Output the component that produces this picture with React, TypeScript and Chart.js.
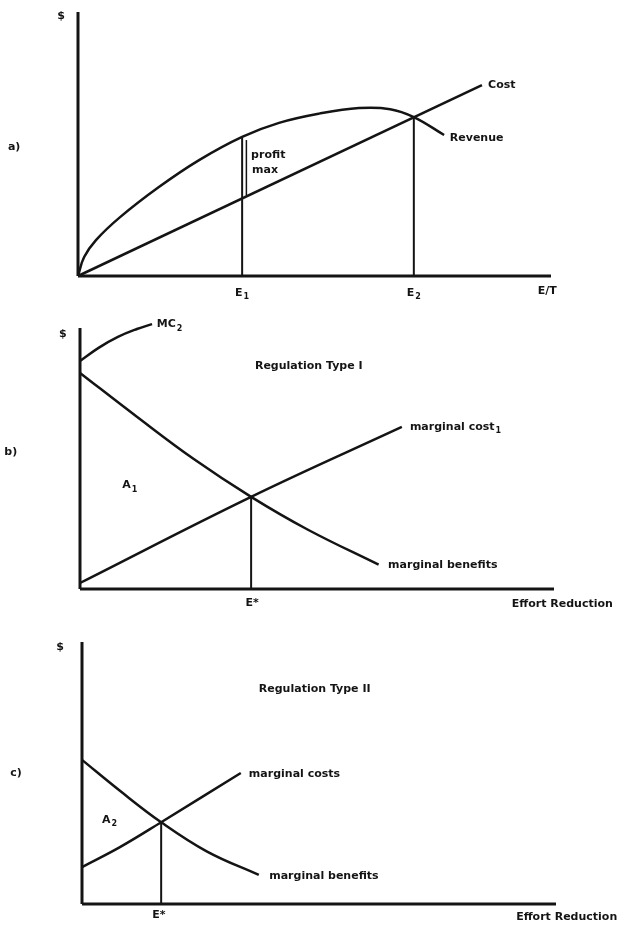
import React, { useEffect, useRef } from "react";
import { Chart, registerables } from "chart.js";
Chart.register(...registerables);

const INK = "#141414";
const FONT = '"DejaVu Sans", "Liberation Sans", Arial, sans-serif';

// ---------- Panel a) ----------
const aRevenueX = [0, 1.3, 3.8, 8.9, 17.1, 25.6, 34.7, 42.5, 51, 59.4, 66, 71, 77.4];
const aRevenueY = [0, 7.2, 13.6, 22.3, 33.7, 43.9, 52.7, 58, 61.5, 63.6, 63.2, 60.2, 53.4];
const aCostX = [0, 85.4];
const aCostY = [0, 72.3];
const aE1 = 34.7;
const aE1Top = 52.7;
const aE2 = 71.0;
const aE2Top = 60.2;
const aProfitBracketX = 35.6;
const aProfitBracketY = [30.5, 51.5];

// ---------- Panel b) ----------
const bMC2X = [0, 4, 8, 12, 15.2];
const bMC2Y = [87.4, 92.5, 96.6, 99.6, 101.5];
const bBenefitX = [0, 12, 24, 36.1, 48, 63];
const bBenefitY = [82.8, 66, 49.8, 35.3, 22.8, 9.3];
const bCostX = [0, 36.1, 67.9];
const bCostY = [2.3, 35.3, 62.1];
const bEstar = 36.1;
const bEstarTop = 35.3;

// ---------- Panel c) ----------
const cBenefitX = [0, 8, 16.7, 26.4, 37.3];
const cBenefitY = [55, 43.2, 31.2, 20, 11.1];
const cCostX = [0, 8, 16.7, 33.5];
const cCostY = [14.1, 21.7, 31.2, 50];
const cEstar = 16.7;
const cEstarTop = 31.2;

type Label = { t: string; sub?: string; x: number; y: number; align?: "left" | "center"; size?: number };

const aLabels: Label[] = [
  { t: "$", x: -3.6, y: 98.5, align: "center", size: 11 },
  { t: "a)", x: -13.5, y: 48.9, align: "center" },
  { t: "Cost", x: 86.7, y: 72.3 },
  { t: "Revenue", x: 78.6, y: 52.3 },
  { t: "profit", x: 36.6, y: 45.8 },
  { t: "max", x: 36.8, y: 40.2 },
  { t: "E", sub: "1", x: aE1, y: -6.4, align: "center" },
  { t: "E", sub: "2", x: aE2, y: -6.4, align: "center" },
  { t: "E/T", x: 99.2, y: -5.7, align: "center" },
];

const bLabels: Label[] = [
  { t: "$", x: -3.6, y: 97.7, align: "center", size: 11 },
  { t: "b)", x: -14.6, y: 52.5, align: "center" },
  { t: "MC", sub: "2", x: 16.2, y: 101.5 },
  { t: "Regulation Type I", x: 36.9, y: 85.4 },
  { t: "marginal cost", sub: "1", x: 69.6, y: 62.1 },
  { t: "A", sub: "1", x: 8.9, y: 39.8 },
  { t: "marginal benefits", x: 65.0, y: 9.2 },
  { t: "E*", x: 36.3, y: -5.4, align: "center" },
  { t: "Effort Reduction", x: 91.1, y: -5.7 },
];

const cLabels: Label[] = [
  { t: "$", x: -4.6, y: 98.1, align: "center", size: 11 },
  { t: "c)", x: -13.9, y: 50, align: "center" },
  { t: "Regulation Type II", x: 37.3, y: 82.1 },
  { t: "marginal costs", x: 35.2, y: 49.6 },
  { t: "A", sub: "2", x: 4.2, y: 32.1 },
  { t: "marginal benefits", x: 39.5, y: 10.7 },
  { t: "E*", x: 16.2, y: -4.2, align: "center" },
  { t: "Effort Reduction", x: 91.6, y: -5 },
];

function line(xs: number[], ys: number[], width = 2.5, smooth = true) {
  return {
    data: xs.map((x, i) => ({ x, y: ys[i] })),
    borderColor: INK,
    borderWidth: width,
    pointRadius: 0,
    fill: false,
    tension: smooth ? 0.4 : 0,
    clip: false,
    borderCapStyle: "butt",
  } as any;
}

function axes() {
  return [line([0, 100], [0, 0], 3, false), line([0, 0], [0, 100], 3, false)];
}

const labelPlugin = {
  id: "labels",
  afterDatasetsDraw(chart: any, _args: any, opts: any) {
    const labels: Label[] = opts.items || [];
    const ctx = chart.ctx;
    const xs = chart.scales.x;
    const ys = chart.scales.y;
    ctx.save();
    ctx.fillStyle = INK;
    ctx.textBaseline = "middle";
    for (const l of labels) {
      const size = l.size || 11;
      const px = xs.getPixelForValue(l.x);
      const py = ys.getPixelForValue(l.y);
      ctx.font = `bold ${size}px ${FONT}`;
      const w1 = ctx.measureText(l.t).width;
      let w2 = 0;
      const subSize = Math.round(size * 0.75);
      if (l.sub) {
        ctx.font = `bold ${subSize}px ${FONT}`;
        w2 = ctx.measureText(l.sub).width + 1;
      }
      const total = w1 + w2;
      const x0 = l.align === "center" ? px - total / 2 : px;
      ctx.font = `bold ${size}px ${FONT}`;
      ctx.textAlign = "left";
      ctx.fillText(l.t, x0, py);
      if (l.sub) {
        ctx.font = `bold ${subSize}px ${FONT}`;
        ctx.fillText(l.sub, x0 + w1 + 1, py + size * 0.4);
      }
    }
    ctx.restore();
  },
};

function PanelChart(props: { height: number; padding: any; datasets: any[]; labels: Label[] }) {
  const ref = useRef<HTMLCanvasElement | null>(null);
  useEffect(() => {
    if (!ref.current) return;
    const chart = new Chart(ref.current, {
      type: "line",
      data: { datasets: props.datasets },
      options: {
        animation: false,
        responsive: false,
        devicePixelRatio: 1,
        layout: { padding: props.padding },
        scales: {
          x: { type: "linear", min: 0, max: 100, display: false },
          y: { type: "linear", min: 0, max: 100, display: false },
        },
        plugins: {
          legend: { display: false },
          tooltip: { enabled: false },
          labels: { items: props.labels },
        } as any,
      },
      plugins: [labelPlugin],
    });
    return () => chart.destroy();
  }, []);
  return <canvas ref={ref} width={622} height={props.height} style={{ display: "block", width: 622, height: props.height }} />;
}

export default function App() {
  const aSets = [
    ...axes(),
    line(aCostX, aCostY, 2.5, false),
    line(aRevenueX, aRevenueY, 2.5, true),
    line([aE1, aE1], [0, aE1Top], 2, false),
    line([aE2, aE2], [0, aE2Top], 2, false),
    line([aProfitBracketX, aProfitBracketX], aProfitBracketY, 1.5, false),
  ];
  const bSets = [
    ...axes(),
    line(bMC2X, bMC2Y, 2.5, true),
    line(bBenefitX, bBenefitY, 2.5, true),
    line(bCostX, bCostY, 2.5, true),
    line([bEstar, bEstar], [0, bEstarTop], 2, false),
  ];
  const cSets = [
    ...axes(),
    line(cBenefitX, cBenefitY, 2.5, true),
    line(cCostX, cCostY, 2.5, true),
    line([cEstar, cEstar], [0, cEstarTop], 2, false),
  ];
  return (
    <div style={{ position: "absolute", left: 0, top: 0, width: 622, height: 927, background: "#fff" }}>
      <PanelChart height={310} padding={{ left: 78, right: 71, top: 12, bottom: 34 }} datasets={aSets} labels={aLabels} />
      <PanelChart height={310} padding={{ left: 80, right: 68, top: 18, bottom: 31 }} datasets={bSets} labels={bLabels} />
      <PanelChart height={307} padding={{ left: 82, right: 66, top: 22, bottom: 23 }} datasets={cSets} labels={cLabels} />
    </div>
  );
}
